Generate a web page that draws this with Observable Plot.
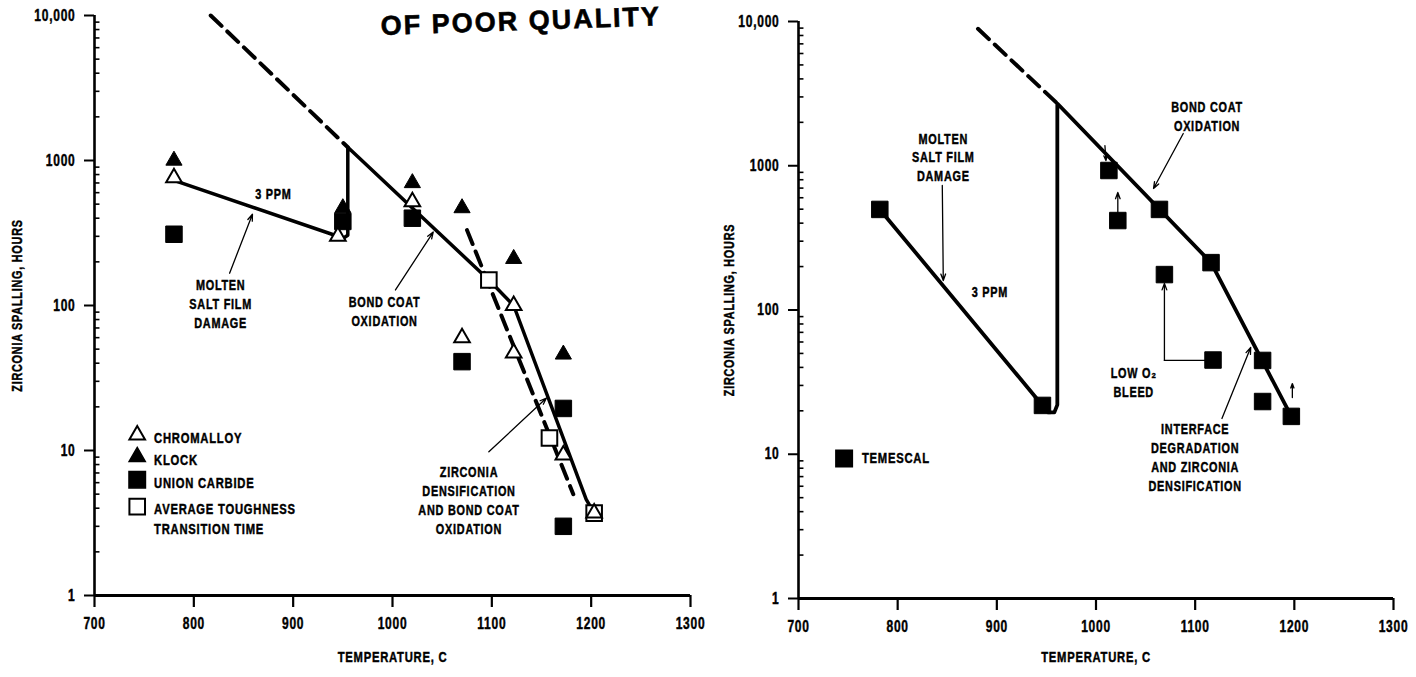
<!DOCTYPE html>
<html><head><meta charset="utf-8">
<script src="https://cdn.jsdelivr.net/npm/d3@7"></script>
<script src="https://cdn.jsdelivr.net/npm/@observablehq/plot@0.6"></script>
<style>
html,body{margin:0;padding:0;background:#fff;}
#wrap{position:relative;width:1416px;height:677px;overflow:hidden;background:#fff;}
#left,#right{position:absolute;top:0;}
#left{left:0}
#right{left:705px}
#wrap svg{background:transparent;overflow:visible;}
#wrap svg text{letter-spacing:1px;stroke:black;stroke-width:0.45px;}
#stamp{position:absolute;left:381px;top:13px;font:900 27px "Liberation Sans",Arial,sans-serif;letter-spacing:2px;transform:rotate(-2deg);transform-origin:0 80%;white-space:nowrap;line-height:27px;-webkit-text-stroke:0.6px black;}
</style></head><body>
<div id="wrap"><div id="left"></div><div id="right"></div><div id="stamp">OF POOR QUALITY</div></div>
<script>
const FONT = '"Liberation Sans",Arial,sans-serif';
const NARROW = 0.75;

// axes
const xTicks = [700, 800, 900, 1000, 1100, 1200, 1300];
const yTicks = [1, 10, 100, 1000, 10000];
const yTickLabels = ["1", "10", "100", "1000", "10,000"];
const yMinor = [2,3,4,5,6,7,8,9,20,30,40,50,60,70,80,90,200,300,400,500,600,700,800,900,2000,3000,4000,5000,6000,7000,8000,9000];
const xTitle = "TEMPERATURE, C";
const yTitle = "ZIRCONIA SPALLING, HOURS";

// ---- left panel data ----
const chromalloyT = [780, 945, 1020, 1070, 1122, 1122, 1172, 1203];
const chromalloyH = [760, 300, 520, 60, 100, 47, 9.3, 3.7];
const klockT = [780, 950, 1020, 1070, 1122, 1172];
const klockH = [1000, 470, 700, 470, 210, 46];
const unionT = [780, 950, 1020, 1070, 1172, 1172];
const unionH = [310, 380, 400, 41, 19.5, 3];
const toughT = [1097, 1158, 1203];
const toughH = [150, 12.2, 3.7];
const leftSolidT = [780, 942, 950, 955, 955, 1097, 1122, 1195, 1203];
const leftSolidH = [730, 305, 290, 305, 1233, 150, 100, 4.6, 3.7];
const leftDashUpperT = [817, 955];
const leftDashUpperH = [10000, 1233];
const leftDashZrT = [1075, 1182];
const leftDashZrH = [331, 5];

const leftLegendLabels = ["CHROMALLOY", "KLOCK", "UNION CARBIDE", "AVERAGE TOUGHNESS\nTRANSITION TIME"];
const leftLegendH = [12.8, 9.06, 6.29, 4.1];
const leftLegendSymT = 743, leftLegendTextT = 760;

const leftNotes = [
  {t: 880, h: 595, text: "3 PPM"},
  {t: 827, h: 104, text: "MOLTEN\nSALT FILM\nDAMAGE"},
  {t: 992, h: 93, text: "BOND COAT\nOXIDATION"},
  {t: 1077, h: 4.6, text: "ZIRCONIA\nDENSIFICATION\nAND BOND COAT\nOXIDATION"}
];
const leftArrows = [
  {t1: 836, h1: 167, t2: 859, h2: 426},
  {t1: 1003, h1: 128, t2: 1041, h2: 321},
  {t1: 1097, h1: 9.8, t2: 1155, h2: 23}
];

// ---- right panel data ----
const temescalT = [782, 946, 1013, 1022, 1064, 1069, 1116, 1118, 1168, 1168, 1197];
const temescalH = [498, 21.8, 927, 417, 498, 176, 213, 45, 44.7, 23.2, 18.3];
const rightSolidT = [782, 946, 952, 958, 961, 961, 1116, 1197];
const rightSolidH = [498, 21.8, 19.5, 19.5, 22, 2700, 213, 18.3];
const rightDashT = [881, 961];
const rightDashH = [8900, 2700];
const bleedT = [1110, 1069];
const bleedH = [44.7, 44.7];
const rightLegendLabel = "TEMESCAL";
const rightLegendH = 9.34, rightLegendSymT = 746, rightLegendTextT = 764;

const rightNotes = [
  {t: 846, h: 1160, text: "MOLTEN\nSALT FILM\nDAMAGE"},
  {t: 893, h: 136, text: "3 PPM"},
  {t: 1112, h: 2230, text: "BOND COAT\nOXIDATION"},
  {t: 1038, h: 32, text: "LOW O\u2082\nBLEED"},
  {t: 1100, h: 9.65, text: "INTERFACE\nDEGRADATION\nAND ZIRCONIA\nDENSIFICATION"}
];
const rightArrows = [
  {t1: 845, h1: 730, t2: 846, h2: 160},
  {t1: 1088, h1: 1674, t2: 1058, h2: 695},
  {t1: 1009, h1: 1380, t2: 1010, h2: 1087},
  {t1: 1022, h1: 474, t2: 1022, h2: 653},
  {t1: 1069, h1: 44.7, t2: 1069, h2: 153},
  {t1: 1127, h1: 17.7, t2: 1156, h2: 55},
  {t1: 1198, h1: 24.7, t2: 1198, h2: 30.9}
];

const pts = (T, H) => T.map((t, i) => ({t, h: H[i]}));

function axes(titleDx, titleDy) {
  return [
    Plot.ruleY(yMinor, {x1: 700, x2: 705.5, stroke: "black", strokeWidth: 1.6}),
    Plot.axisY(yTicks, {tickSize: 10, tickPadding: 9, strokeWidth: 2, fontSize: 16, fontWeight: "bold",
      tickFormat: d => yTickLabels[yTicks.indexOf(d)], label: null}),
    Plot.axisX(xTicks, {tickSize: 12, tickPadding: 10, strokeWidth: 2.2, fontSize: 16, fontWeight: "bold",
      tickFormat: d => String(d), label: null}),
    Plot.ruleX([700], {stroke: "black", strokeWidth: 2.6}),
    Plot.ruleY([1], {stroke: "black", strokeWidth: 3}),
    Plot.text([yTitle], {frameAnchor: "left", textAnchor: "middle", rotate: -90, dx: titleDx, fontSize: 14.5, fontWeight: "bold"}),
    Plot.text([xTitle], {frameAnchor: "bottom", textAnchor: "middle", dy: titleDy, fontSize: 15, fontWeight: "bold"})
  ];
}

const noteText = (notes) => Plot.text(notes, {x: "t", y: "h", text: "text", fontSize: 14.5, fontWeight: "bold", lineHeight: 1.3, lineAnchor: "middle"});
const noteArrows = (arr) => Plot.arrow(arr, {x1: "t1", y1: "h1", x2: "t2", y2: "h2", stroke: "black", strokeWidth: 1.3, headLength: 8, headAngle: 40});

const common = {
  x: {type: "linear", domain: [700, 1300]},
  y: {type: "log", domain: [1, 10000]},
  style: {fontFamily: FONT, background: "transparent", color: "black", overflow: "visible"}
};

const left = Plot.plot({
  ...common,
  width: 720, height: 677,
  marginLeft: 94, marginRight: 30, marginTop: 15, marginBottom: 82,
  marks: [
    ...axes(-77, 66),
    Plot.line(pts(leftDashUpperT, leftDashUpperH), {x: "t", y: "h", stroke: "black", strokeWidth: 4, strokeDasharray: "15,8"}),
    Plot.line(pts(leftDashZrT, leftDashZrH), {x: "t", y: "h", stroke: "black", strokeWidth: 4, strokeDasharray: "15,8"}),
    Plot.line(pts(leftSolidT, leftSolidH), {x: "t", y: "h", stroke: "black", strokeWidth: 3.5, strokeLinejoin: "round"}),
    noteArrows(leftArrows),
    Plot.dot(pts(unionT, unionH), {x: "t", y: "h", symbol: "square", r: 9.3, fill: "black", stroke: "black", strokeWidth: 1}),
    Plot.dot(pts(klockT, klockH), {x: "t", y: "h", symbol: "triangle", r: 6, fill: "black", stroke: "black", strokeWidth: 1}),
    Plot.dot(pts(toughT, toughH), {x: "t", y: "h", symbol: "square", r: 8.8, fill: "white", stroke: "black", strokeWidth: 2}),
    Plot.dot(pts(chromalloyT, chromalloyH), {x: "t", y: "h", symbol: "triangle", r: 5.8, fill: "white", stroke: "black", strokeWidth: 2}),
    noteText(leftNotes),
    // legend
    Plot.dot([leftLegendH[0]], {x: leftLegendSymT, y: d => d, symbol: "triangle", r: 5.8, fill: "white", stroke: "black", strokeWidth: 2}),
    Plot.dot([leftLegendH[1]], {x: leftLegendSymT, y: d => d, symbol: "triangle", r: 6, fill: "black", stroke: "black"}),
    Plot.dot([leftLegendH[2]], {x: leftLegendSymT, y: d => d, symbol: "square", r: 9.3, fill: "black", stroke: "black"}),
    Plot.dot([leftLegendH[3]], {x: leftLegendSymT, y: d => d, symbol: "square", r: 8.8, fill: "white", stroke: "black", strokeWidth: 2}),
    Plot.text(leftLegendLabels.map((l, i) => ({l, h: leftLegendH[i]})), {x: leftLegendTextT, y: "h", text: "l", textAnchor: "start", lineAnchor: "top", dy: -6, lineHeight: 1.3, fontSize: 15, fontWeight: "bold"})
  ]
});

const right = Plot.plot({
  ...common,
  width: 711, height: 677,
  marginLeft: 93, marginRight: 23, marginTop: 21, marginBottom: 79,
  marks: [
    ...axes(-69, 63),
    Plot.line(pts(rightDashT, rightDashH), {x: "t", y: "h", stroke: "black", strokeWidth: 4, strokeDasharray: "15,8"}),
    Plot.line(pts(rightSolidT, rightSolidH), {x: "t", y: "h", stroke: "black", strokeWidth: 3.8, strokeLinejoin: "round"}),
    Plot.line(pts(bleedT, bleedH), {x: "t", y: "h", stroke: "black", strokeWidth: 1.3}),
    noteArrows(rightArrows),
    Plot.dot(pts(temescalT, temescalH), {x: "t", y: "h", symbol: "square", r: 9.3, fill: "black", stroke: "black", strokeWidth: 1}),
    noteText(rightNotes),
    Plot.dot([rightLegendH], {x: rightLegendSymT, y: d => d, symbol: "square", r: 9.3, fill: "black", stroke: "black"}),
    Plot.text([rightLegendLabel], {x: rightLegendTextT, y: rightLegendH, textAnchor: "start", fontSize: 15, fontWeight: "bold"})
  ]
});

// condense all text horizontally (the original uses a condensed bold face)
function condense(svg, k) {
  svg.querySelectorAll("text").forEach(el => {
    const tr = el.getAttribute("transform") || "";
    if (el.hasAttribute("x")) el.setAttribute("x", parseFloat(el.getAttribute("x")) / k);
    el.setAttribute("transform", tr + ` scale(${k},1)`);
  });
}
condense(left, NARROW);
condense(right, NARROW);

document.getElementById("left").appendChild(left);
document.getElementById("right").appendChild(right);
</script>
</body></html>
